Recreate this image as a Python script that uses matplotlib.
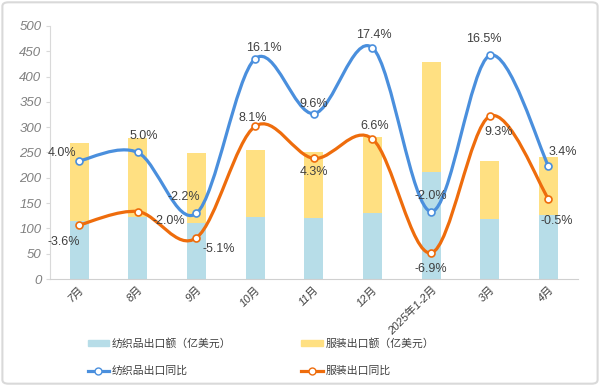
import matplotlib
matplotlib.use("Agg")
import matplotlib.pyplot as plt
from matplotlib.path import Path
from matplotlib.patches import PathPatch, FancyBboxPatch, Patch
from matplotlib.lines import Line2D
import numpy as np

plt.rcParams['font.family'] = ['Liberation Sans', 'Noto Sans CJK SC', 'DejaVu Sans']

categories = ['7月', '8月', '9月', '10月', '11月', '12月', '2025年1-2月', '3月', '4月']
textile_export = [115, 122, 111, 122, 121, 130, 212, 119, 126]
apparel_export = [153, 157, 137, 133, 130, 151, 217, 114, 116]
textile_yoy = [4.0, 5.0, -2.2, 16.1, 9.6, 17.4, -2.0, 16.5, 3.4]
apparel_yoy = [-3.6, -2.0, -5.1, 8.1, 4.3, 6.6, -6.9, 9.3, -0.5]
y_ticks = list(range(0, 501, 50))

# label placement (offset in points)
textile_off = [(-12, 6), (4, 12), (-9, 12), (6, 8), (0, 7), (1, 9.5), (0, 11), (-4, 12), (10, 10)]
apparel_off = [(-11, -12), (22, -7), (16, -8), (-2, 6), (0, -9.5), (1.5, 9.5), (0, -11.5), (6, -11.5), (6, -16)]

C_TB = '#b7dde8'
C_AB = '#ffe082'
C_TL = '#4a8fdd'
C_AL = '#ee6c0c'
TXT = '#404040'

fig = plt.figure(figsize=(6.0, 3.86), dpi=100)
ax = fig.add_axes([0.083, 0.277, 0.880, 0.656])
x = np.arange(len(categories))
w = 0.32
ax.bar(x, textile_export, w, color=C_TB, zorder=1)
ax.bar(x, apparel_export, w, bottom=textile_export, color=C_AB, zorder=1)
ax.set_xlim(-0.5, len(categories) - 0.5)
ax.set_ylim(0, 500)
ax.set_yticks(y_ticks, labels=[str(v) for v in y_ticks], fontstyle='italic',
              fontsize=9.5, color='#808080')
for s in ['top', 'right']:
    ax.spines[s].set_visible(False)
ax.spines['left'].set_color('#d9d9d9')
ax.spines['bottom'].set_color('#d0d0d0')
ax.tick_params(axis='y', length=3, color='#d9d9d9', pad=3)
ax.tick_params(axis='x', length=0, pad=4)
ax.set_xticks(x, labels=categories, rotation=45, ha='right', rotation_mode='anchor',
              fontstyle='italic', fontsize=8, color=TXT)

ax2 = ax.twinx()
ax2.set_ylim(-10, 20)
ax2.axis('off')


def smooth_path(xs, ys):
    P = np.column_stack([xs, ys]).astype(float)
    n = len(P)
    verts = [P[0]]
    codes = [Path.MOVETO]
    for i in range(n - 1):
        p0 = P[i - 1] if i > 0 else P[i]
        p1, p2 = P[i], P[i + 1]
        p3 = P[i + 2] if i + 2 < n else P[i + 1]
        c1 = p1 + (p2 - p0) / 6.0
        c2 = p2 - (p3 - p1) / 6.0
        verts += [c1, c2, p2]
        codes += [Path.CURVE4] * 3
    return Path(verts, codes)


for ys, col, offs in [(textile_yoy, C_TL, textile_off), (apparel_yoy, C_AL, apparel_off)]:
    ax2.add_patch(PathPatch(smooth_path(x, ys), facecolor='none', edgecolor=col, lw=2.3,
                            transform=ax2.transData, zorder=3, capstyle='round'))
    ax2.plot(x, ys, 'o', ms=5, mfc='white', mec=col, mew=1.2, zorder=4)
    for xi, yi, (dx, dy) in zip(x, ys, offs):
        ax2.annotate(f'{yi:.1f}%', (xi, yi), xytext=(dx, dy), textcoords='offset points',
                     ha='center', va='center', fontsize=9, color=TXT, zorder=5)

handles = [Patch(color=C_TB), Line2D([], [], color=C_TL, lw=2.3, marker='o', ms=5, mfc='white', mec=C_TL),
           Patch(color=C_AB), Line2D([], [], color=C_AL, lw=2.3, marker='o', ms=5, mfc='white', mec=C_AL)]
labels = ['纺织品出口额（亿美元）', '纺织品出口同比', '服装出口额（亿美元）', '服装出口同比']
leg = fig.legend(handles, labels, ncol=2, loc='center left', bbox_to_anchor=(0.137, 0.075),
                 frameon=False, fontsize=7.8, handlelength=2.0, handleheight=0.5,
                 handletextpad=0.25, columnspacing=6.45, labelspacing=1.55, borderpad=0)
for t in leg.get_texts():
    t.set_color(TXT)

fig.patches.append(FancyBboxPatch((0.004, 0.006), 0.992, 0.988, boxstyle='round,pad=0,rounding_size=0.01',
                                  transform=fig.transFigure, facecolor='none', edgecolor='#d9d9d9', lw=1.5))

fig.savefig('out.png', dpi=100)
